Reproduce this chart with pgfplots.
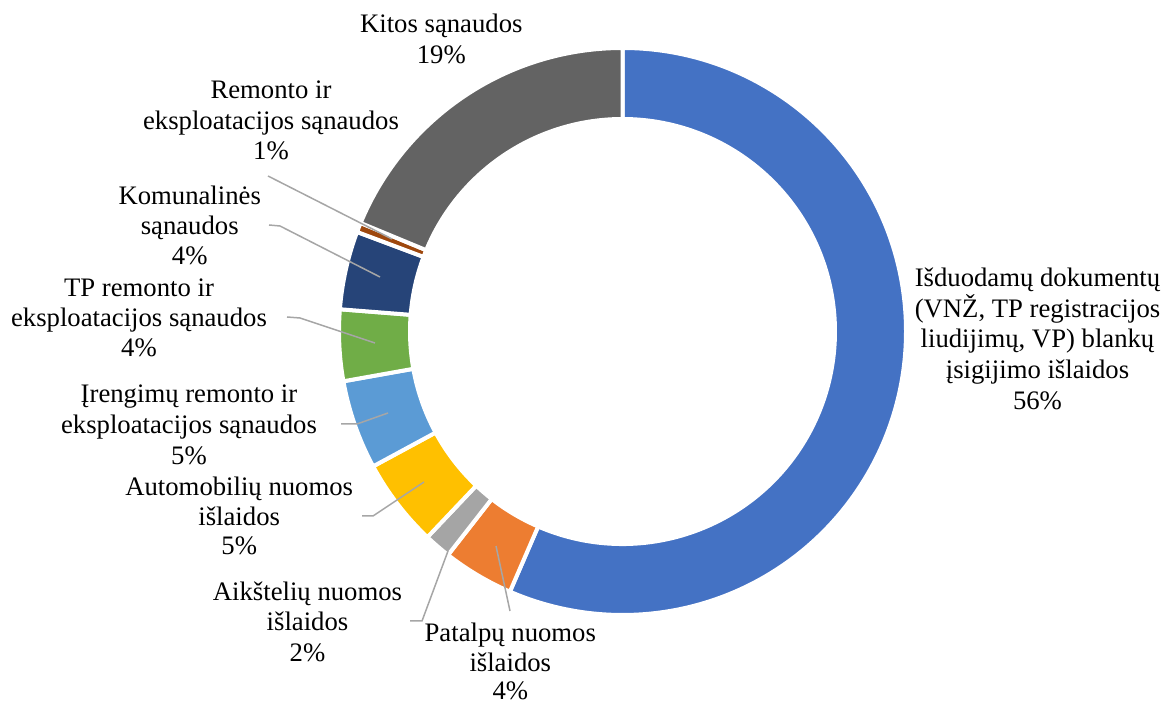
\documentclass[border=0pt]{standalone}
\usepackage{pgfplots}
\usepackage{pgfplotstable}
\pgfplotsset{compat=1.18}
\usepackage{fontspec}
\setmainfont{Liberation Serif}

\definecolor{cBlue}{HTML}{4472C4}
\definecolor{cOrange}{HTML}{ED7D31}
\definecolor{cGray}{HTML}{A5A5A5}
\definecolor{cYellow}{HTML}{FFC000}
\definecolor{cLBlue}{HTML}{5B9BD5}
\definecolor{cGreen}{HTML}{70AD47}
\definecolor{cDBlue}{HTML}{264478}
\definecolor{cDOrange}{HTML}{9E480E}
\definecolor{cDGray}{HTML}{636363}
\definecolor{leadergray}{HTML}{A6A6A6}

% shares in %, clockwise from 12 o'clock
\pgfplotstableread{
v      c
56.50  cBlue
4.05   cOrange
1.53   cGray
5.03   cYellow
5.08   cLBlue
4.06   cGreen
4.46   cDBlue
0.54   cDOrange
18.75  cDGray
}\slices

% picture in pixel units (1 px = 0.5bp), y measured from the top
\newcommand\lf{\fontsize{13.4}{15.3}\selectfont}
\newcommand\lbl[3]{\node[anchor=base,inner sep=0pt,font=\lf] at (axis cs:#1,{702-#2}) {#3};}

\begin{document}
\begin{tikzpicture}
\begin{axis}[
  name=ax,
  width=588bp, height=351bp, scale only axis,
  xmin=0, xmax=1176, ymin=0, ymax=702,
  hide axis, clip=false,
]
\def\cum{0}
\pgfplotstablegetrowsof{\slices}
\pgfmathtruncatemacro\last{\pgfplotsretval-1}
\pgfplotsforeachungrouped \i in {0,...,\last}{%
  \pgfplotstablegetelem{\i}{v}\of\slices \let\val\pgfplotsretval
  \pgfplotstablegetelem{\i}{c}\of\slices \let\col\pgfplotsretval
  \pgfmathsetmacro\aA{90-3.6*\cum}%
  \pgfmathsetmacro\cumnew{\cum+\val}%
  \pgfmathsetmacro\aB{90-3.6*\cumnew}%
  \edef\temp{\noexpand\path[fill=\col, draw=white, line width=2bp, line join=miter]
    (axis cs:{622.5+283.5*cos(\aA)},{370.5+283.5*sin(\aA)})
    arc[start angle=\aA, end angle=\aB, radius=141.75bp]
    -- (axis cs:{622.5+212.5*cos(\aB)},{370.5+212.5*sin(\aB)})
    arc[start angle=\aB, end angle=\aA, radius=106.25bp] -- cycle;}%
  \temp
  \let\cum\cumnew
}

% leader lines
\begin{scope}[leadergray, line width=0.75bp]
\draw (axis cs:268,526) -- (axis cs:392,463);
\draw (axis cs:269,477) -- (axis cs:280,476) -- (axis cs:380,425);
\draw (axis cs:287,385) -- (axis cs:300,384) -- (axis cs:375,359);
\draw (axis cs:341,278) -- (axis cs:357,278) -- (axis cs:388,289);
\draw (axis cs:362,186) -- (axis cs:373,186) -- (axis cs:424,220);
\draw (axis cs:410,81) -- (axis cs:422,81) -- (axis cs:448,151);
\draw (axis cs:496,156) -- (axis cs:510,91);
\end{scope}

% data labels
\lbl{1037.5}{286.7}{Išduodamų dokumentų}
\lbl{1037.5}{317.3}{(VNŽ, TP registracijos}
\lbl{1037.5}{348.0}{liudijimų, VP) blankų}
\lbl{1037.5}{378.6}{įsigijimo išlaidos}
\lbl{1037.5}{409.3}{56\%}

\lbl{441.3}{32.3}{Kitos sąnaudos}
\lbl{441.3}{63.3}{19\%}

\lbl{271}{99}{Remonto ir}
\lbl{271}{129.2}{eksploatacijos sąnaudos}
\lbl{271}{159.3}{1\%}

\lbl{189.7}{205}{Komunalinės}
\lbl{189.7}{235}{sąnaudos}
\lbl{189.7}{265}{4\%}

\lbl{139}{296.7}{TP remonto ir}
\lbl{139}{326.7}{eksploatacijos sąnaudos}
\lbl{139}{356.7}{4\%}

\lbl{189}{402.7}{Įrengimų remonto ir}
\lbl{189}{433.5}{eksploatacijos sąnaudos}
\lbl{189}{464.3}{5\%}

\lbl{239.2}{496}{Automobilių nuomos}
\lbl{239.2}{525.5}{išlaidos}
\lbl{239.2}{555}{5\%}

\lbl{307.5}{600.7}{Aikštelių nuomos}
\lbl{307.5}{630.8}{išlaidos}
\lbl{307.5}{661}{2\%}

\lbl{510.3}{641.7}{Patalpų nuomos}
\lbl{510.3}{671}{išlaidos}
\lbl{510.3}{699}{4\%}
\end{axis}
\pgfresetboundingbox
\path (ax.south west) rectangle (ax.north east);
\end{tikzpicture}
\end{document}
